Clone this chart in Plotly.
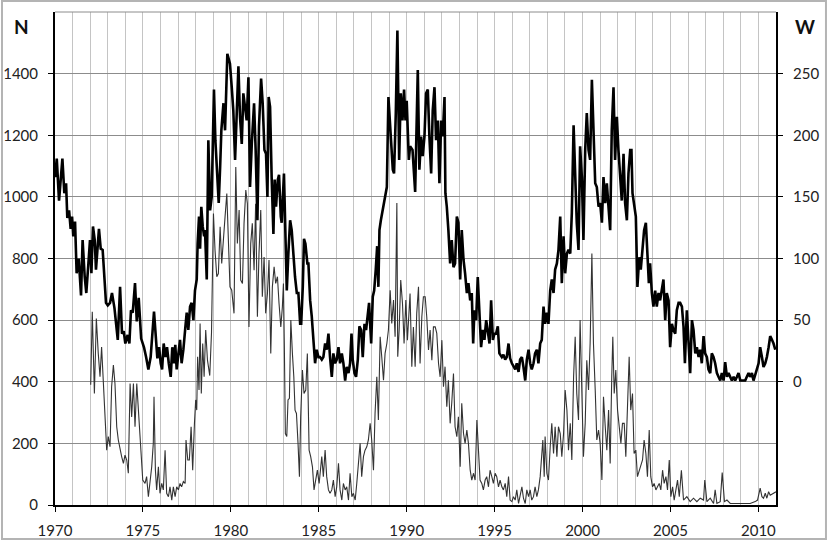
import plotly.graph_objects as go

# Thick line: W (right axis)
w_years = [1970.00,1970.10,1970.23,1970.42,1970.53,1970.63,1970.70,1970.80,1970.89,1970.97,
1971.04,1971.14,1971.23,1971.35,1971.48,1971.57,1971.69,1971.78,1971.90,1971.99,
1972.07,1972.16,1972.26,1972.33,1972.50,1972.60,1972.71,1972.81,1972.90,1973.00,
1973.13,1973.24,1973.38,1973.57,1973.70,1973.81,1973.91,1974.00,1974.13,1974.23,
1974.32,1974.42,1974.55,1974.65,1974.76,1974.90,1975.06,1975.18,1975.31,1975.44,
1975.56,1975.63,1975.73,1975.82,1975.92,1976.01,1976.09,1976.18,1976.28,1976.37,
1976.47,1976.58,1976.67,1976.77,1976.84,1976.92,1977.02,1977.11,1977.20,1977.30,
1977.40,1977.49,1977.58,1977.68,1977.77,1977.87,1977.96,1978.06,1978.11,1978.19,
1978.25,1978.32,1978.40,1978.48,1978.53,1978.63,1978.72,1978.82,1978.91,1978.97,
1979.04,1979.12,1979.20,1979.31,1979.39,1979.46,1979.58,1979.67,1979.80,1979.86,
1979.95,1980.05,1980.14,1980.24,1980.33,1980.43,1980.52,1980.62,1980.71,1980.81,
1980.90,1981.00,1981.09,1981.19,1981.32,1981.41,1981.51,1981.60,1981.72,1981.81,
1981.91,1982.00,1982.08,1982.15,1982.23,1982.32,1982.42,1982.49,1982.57,1982.67,
1982.74,1982.84,1982.89,1983.02,1983.08,1983.18,1983.27,1983.37,1983.46,1983.56,
1983.65,1983.75,1983.84,1983.94,1984.00,1984.09,1984.16,1984.24,1984.35,1984.41,
1984.51,1984.60,1984.69,1984.79,1984.88,1984.98,1985.07,1985.17,1985.26,1985.36,
1985.45,1985.55,1985.64,1985.74,1985.83,1985.93,1986.02,1986.12,1986.21,1986.31,
1986.40,1986.50,1986.59,1986.69,1986.78,1986.86,1986.93,1987.03,1987.12,1987.22,
1987.31,1987.41,1987.50,1987.60,1987.69,1987.79,1987.86,1987.92,1987.98,1988.07,
1988.15,1988.24,1988.32,1988.39,1988.45,1988.53,1988.62,1988.71,1988.81,1988.87,
1988.96,1989.04,1989.11,1989.21,1989.28,1989.38,1989.47,1989.57,1989.66,1989.76,
1989.85,1989.93,1990.00,1990.06,1990.12,1990.19,1990.33,1990.48,1990.63,1990.72,
1990.82,1990.91,1991.01,1991.10,1991.20,1991.29,1991.39,1991.48,1991.58,1991.67,
1991.77,1991.86,1991.96,1992.05,1992.15,1992.20,1992.28,1992.37,1992.47,1992.56,
1992.66,1992.75,1992.85,1992.94,1993.04,1993.13,1993.23,1993.32,1993.42,1993.51,
1993.61,1993.70,1993.78,1993.85,1993.95,1994.04,1994.14,1994.23,1994.33,1994.42,
1994.52,1994.61,1994.71,1994.80,1994.90,1994.99,1995.08,1995.18,1995.27,1995.41,
1995.50,1995.60,1995.69,1995.79,1995.88,1995.98,1996.07,1996.17,1996.26,1996.36,
1996.45,1996.55,1996.64,1996.74,1996.83,1996.93,1997.02,1997.11,1997.21,1997.30,
1997.40,1997.49,1997.59,1997.68,1997.78,1997.87,1997.97,1998.06,1998.16,1998.25,
1998.35,1998.44,1998.54,1998.63,1998.73,1998.82,1998.92,1999.01,1999.11,1999.20,
1999.30,1999.39,1999.49,1999.58,1999.67,1999.77,1999.86,1999.96,2000.05,2000.15,
2000.24,2000.34,2000.43,2000.53,2000.62,2000.72,2000.81,2000.91,2001.00,2001.10,
2001.19,2001.29,2001.38,2001.48,2001.57,2001.66,2001.76,2001.85,2001.95,2002.04,
2002.14,2002.23,2002.33,2002.42,2002.52,2002.61,2002.71,2002.78,2002.84,2002.93,
2003.03,2003.12,2003.22,2003.31,2003.41,2003.50,2003.60,2003.69,2003.77,2003.84,
2003.94,2004.03,2004.13,2004.22,2004.32,2004.41,2004.51,2004.60,2004.70,2004.79,
2004.89,2004.98,2005.08,2005.17,2005.27,2005.36,2005.46,2005.55,2005.65,2005.74,
2005.82,2005.93,2006.03,2006.12,2006.22,2006.31,2006.41,2006.50,2006.60,2006.69,
2006.78,2006.88,2006.97,2007.07,2007.16,2007.26,2007.35,2007.45,2007.54,2007.64,
2007.73,2007.83,2007.92,2008.02,2008.11,2008.21,2008.30,2008.40,2008.49,2008.59,
2008.68,2008.78,2008.87,2008.97,2009.06,2009.16,2009.25,2009.34,2009.44,2009.53,
2009.63,2009.72,2009.82,2009.91,2010.01,2010.10,2010.20,2010.29,2010.39,2010.48,
2010.58,2010.67,2010.77,2010.86,2010.96]
w_values = [166,181,147,181,153,161,133,139,124,134,
118,130,88,100,70,115,85,72,96,115,
88,126,115,91,124,108,107,88,64,62,
64,72,60,34,77,39,41,31,38,31,
58,56,80,49,68,35,28,20,10,20,
45,57,37,19,28,15,10,31,20,28,
15,4,28,15,30,10,23,34,15,26,
42,56,42,61,64,50,74,83,112,134,
108,142,126,118,123,83,196,139,150,188,
237,196,174,145,174,204,226,204,266,262,
258,239,220,180,218,256,215,193,234,223,
212,247,158,193,226,188,131,207,246,226,
188,185,150,231,223,166,120,164,142,164,
168,134,129,169,126,74,104,131,123,101,
85,72,72,47,47,77,116,112,96,96,
66,53,34,15,26,20,20,18,20,31,
26,39,20,4,23,15,18,28,15,23,
15,1,12,7,15,39,18,7,4,18,
45,42,20,47,42,53,64,47,31,69,
74,91,110,77,123,131,139,145,156,158,
231,210,201,172,169,218,285,180,234,212,
237,212,228,207,180,191,188,154,253,172,
199,183,199,234,237,199,169,220,239,196,
212,161,212,199,231,153,142,123,96,115,
93,96,134,129,83,123,99,88,72,80,
66,72,31,58,50,85,58,28,42,34,
50,39,31,66,34,39,39,45,23,20,
22,18,20,31,19,15,12,10,15,8,
18,20,12,1,18,26,15,10,15,23,
26,15,31,34,61,47,56,47,74,83,
72,91,96,107,134,80,118,88,104,107,
104,137,208,166,129,107,191,166,115,188,
218,188,180,245,199,161,158,142,145,129,
166,145,161,142,123,204,239,180,215,188,
166,147,185,145,131,169,188,188,153,145,
134,77,101,91,107,123,129,104,80,96,
72,61,74,61,72,66,74,83,50,72,
66,28,47,42,39,58,64,64,61,45,
15,58,31,7,50,42,23,28,20,26,
15,37,23,20,10,7,23,20,15,7,
4,1,7,1,16,4,7,4,1,4,
1,4,7,1,1,1,1,4,7,4,
7,1,7,10,15,28,20,12,15,20,
28,37,34,31,26]

# Thin line: N (left axis)
n_years = [1972.03,1972.12,1972.24,1972.35,1972.46,1972.56,1972.65,1972.75,1972.84,1972.94,
1973.03,1973.13,1973.22,1973.32,1973.41,1973.51,1973.60,1973.70,1973.79,1973.89,
1973.98,1974.08,1974.17,1974.27,1974.36,1974.46,1974.55,1974.65,1974.74,1974.84,
1974.99,1975.12,1975.21,1975.31,1975.40,1975.50,1975.59,1975.63,1975.71,1975.78,
1975.88,1975.97,1976.07,1976.16,1976.26,1976.35,1976.45,1976.54,1976.64,1976.73,
1976.83,1976.92,1977.02,1977.11,1977.20,1977.30,1977.40,1977.45,1977.55,1977.64,
1977.74,1977.83,1977.93,1978.00,1978.06,1978.11,1978.19,1978.25,1978.32,1978.40,
1978.48,1978.57,1978.67,1978.80,1978.90,1979.01,1979.10,1979.20,1979.29,1979.39,
1979.48,1979.58,1979.67,1979.77,1979.86,1979.95,1980.05,1980.18,1980.28,1980.37,
1980.47,1980.56,1980.66,1980.75,1980.85,1980.94,1981.03,1981.13,1981.22,1981.32,
1981.41,1981.51,1981.60,1981.70,1981.79,1981.89,1981.98,1982.08,1982.17,1982.27,
1982.36,1982.46,1982.55,1982.65,1982.74,1982.84,1982.93,1982.99,1983.04,1983.10,
1983.18,1983.25,1983.33,1983.41,1983.50,1983.58,1983.65,1983.73,1983.82,1983.90,
1983.97,1984.07,1984.16,1984.26,1984.35,1984.45,1984.54,1984.64,1984.73,1984.83,
1984.92,1985.02,1985.17,1985.26,1985.36,1985.45,1985.55,1985.64,1985.74,1985.83,
1985.93,1986.02,1986.12,1986.21,1986.31,1986.40,1986.50,1986.59,1986.69,1986.78,
1986.88,1986.97,1987.07,1987.16,1987.26,1987.35,1987.44,1987.54,1987.63,1987.73,
1987.82,1987.92,1988.01,1988.11,1988.20,1988.30,1988.39,1988.49,1988.58,1988.68,
1988.77,1988.87,1988.96,1989.06,1989.15,1989.25,1989.34,1989.44,1989.49,1989.57,
1989.66,1989.76,1989.85,1989.95,1990.04,1990.14,1990.19,1990.29,1990.38,1990.48,
1990.57,1990.67,1990.76,1990.86,1990.95,1991.05,1991.14,1991.24,1991.33,1991.43,
1991.52,1991.62,1991.71,1991.81,1991.90,1992.00,1992.09,1992.18,1992.28,1992.37,
1992.47,1992.56,1992.66,1992.75,1992.85,1992.94,1993.04,1993.13,1993.23,1993.32,
1993.42,1993.51,1993.61,1993.70,1993.80,1993.89,1993.99,1994.08,1994.17,1994.27,
1994.36,1994.46,1994.55,1994.65,1994.74,1994.84,1994.93,1995.03,1995.12,1995.22,
1995.31,1995.41,1995.50,1995.60,1995.69,1995.79,1995.88,1995.98,1996.07,1996.17,
1996.26,1996.36,1996.45,1996.55,1996.64,1996.74,1996.83,1996.93,1997.02,1997.11,
1997.21,1997.30,1997.40,1997.49,1997.59,1997.68,1997.74,1997.82,1997.87,1997.97,
1998.06,1998.16,1998.25,1998.35,1998.44,1998.54,1998.63,1998.73,1998.82,1998.92,
1999.01,1999.11,1999.20,1999.30,1999.39,1999.49,1999.58,1999.67,1999.77,1999.86,
1999.96,2000.05,2000.15,2000.24,2000.34,2000.43,2000.53,2000.62,2000.72,2000.81,
2000.91,2001.00,2001.10,2001.19,2001.29,2001.38,2001.48,2001.57,2001.66,2001.72,
2001.80,2001.89,2001.99,2002.08,2002.18,2002.27,2002.37,2002.46,2002.56,2002.65,
2002.74,2002.84,2002.93,2003.03,2003.12,2003.22,2003.31,2003.41,2003.50,2003.60,
2003.69,2003.79,2003.88,2003.98,2004.07,2004.17,2004.26,2004.36,2004.45,2004.55,
2004.64,2004.74,2004.83,2004.93,2005.02,2005.12,2005.21,2005.31,2005.40,2005.50,
2005.62,2005.74,2005.93,2006.12,2006.31,2006.50,2006.69,2006.88,2006.95,2007.07,
2007.26,2007.45,2007.54,2007.64,2007.83,2007.94,2008.07,2008.21,2008.40,2008.78,
2009.16,2009.53,2009.82,2009.95,2010.10,2010.20,2010.29,2010.39,2010.48,2010.58,
2010.67,2010.86,2011.00]
n_values = [390,627,362,605,492,416,513,405,276,178,
222,189,384,454,394,254,211,178,157,135,
162,146,103,394,286,394,254,394,308,250,
81,70,92,27,70,124,200,351,113,49,
124,38,70,49,178,38,27,59,16,59,
27,59,49,70,59,76,70,211,146,146,
254,113,265,341,308,481,373,589,362,524,
416,568,470,420,560,946,827,741,751,903,
784,849,935,1011,849,708,697,622,1097,849,
957,730,719,914,1022,978,578,849,914,762,
978,611,816,957,676,805,622,686,795,492,
708,773,719,741,654,578,643,719,524,232,
222,341,346,600,492,416,308,297,200,92,
286,438,362,373,492,178,157,124,49,92,
113,70,157,92,178,92,49,38,49,81,
27,59,135,49,16,70,49,59,16,103,
27,38,16,70,146,200,92,157,178,189,
211,265,211,113,297,416,276,546,481,405,
492,524,568,697,589,665,546,980,481,568,
730,654,524,665,535,654,686,449,578,449,
622,708,459,611,676,676,611,503,568,470,
578,578,557,459,416,535,384,449,319,405,
265,330,427,254,222,286,124,330,232,200,
243,200,113,81,103,81,276,178,81,70,
49,81,92,59,113,92,70,103,92,59,
81,59,49,70,27,92,16,11,27,16,
49,5,27,59,22,5,49,27,49,16,
27,59,27,49,92,178,211,92,222,103,
81,189,265,167,254,157,254,232,157,232,
373,308,178,265,146,416,546,362,276,600,
308,157,265,470,373,524,816,524,373,211,
243,200,81,351,254,178,308,135,416,546,
362,438,308,243,200,265,265,157,297,481,
308,362,167,178,92,113,124,146,211,167,
92,243,92,59,70,49,59,70,49,113,
70,92,49,146,27,59,16,49,81,27,
113,16,27,11,22,11,22,16,81,11,
22,5,49,5,11,105,11,16,5,5,
5,5,11,16,55,27,22,38,22,43,
32,38,43]

x_tickvals = [1970, 1975, 1980, 1985, 1990, 1995, 2000, 2005, 2010]
n_tickvals = [0, 200, 400, 600, 800, 1000, 1200, 1400]
w_tickvals = [0, 50, 100, 150, 200, 250]

FONT = "Lato, 'Open Sans', sans-serif"

fig = go.Figure()
fig.add_trace(go.Scatter(x=n_years, y=n_values, mode="lines", name="N",
                         line=dict(color="#333333", width=1.1), yaxis="y"))
fig.add_trace(go.Scatter(x=w_years, y=w_values, mode="lines", name="W",
                         line=dict(color="#000000", width=2.6), yaxis="y2"))

fig.update_layout(
    width=829, height=542,
    margin=dict(l=55, r=53, t=12, b=37, autoexpand=False),
    paper_bgcolor="white", plot_bgcolor="white",
    showlegend=False,
    font=dict(family=FONT, size=15, color="#222222"),
    xaxis=dict(range=[1970, 2011], tickvals=x_tickvals, ticks="outside", ticklen=5,
               tickcolor="black", showline=True, linecolor="black", linewidth=2,
               showgrid=False, zeroline=False, ticklabelstandoff=6, automargin=False,
               minor=dict(dtick=1, tick0=1970, showgrid=True, gridcolor="#c4c4c4",
                          gridwidth=1, ticks="")),
    yaxis=dict(range=[0, 1600], tickvals=n_tickvals, ticks="outside", ticklen=5,
               tickcolor="black", showline=True, linecolor="black", linewidth=2,
               showgrid=True, gridcolor="#8c8c8c", gridwidth=1, zeroline=False,
               ticklabelstandoff=7, automargin=False),
    yaxis2=dict(range=[-100, 300], tickvals=w_tickvals, ticks="outside", ticklen=5,
                tickcolor="black", overlaying="y", side="right", showline=True,
                linecolor="black", linewidth=2, showgrid=False, zeroline=False,
                ticklabelstandoff=7, automargin=False),
    shapes=[
        dict(type="line", xref="paper", yref="paper", x0=0, x1=1, y0=1, y1=1,
             line=dict(color="#8c8c8c", width=1)),
        dict(type="rect", xref="paper", yref="paper", x0=-0.0735, x1=1.0693,
             y0=-0.069, y1=1.0223, line=dict(color="#b4b4b4", width=2)),
    ],
    annotations=[
        dict(text="<b>N</b>", xref="paper", yref="paper", x=-0.046, y=0.97,
             xanchor="center", yanchor="middle",
             showarrow=False, font=dict(size=19, color="#111111", family=FONT)),
        dict(text="<b>W</b>", xref="paper", yref="paper", x=1.040, y=0.97,
             xanchor="center", yanchor="middle",
             showarrow=False, font=dict(size=19, color="#111111", family=FONT)),
    ],
)

fig.write_html("out.html", config={"displayModeBar": False},
               post_script="document.body.style.margin='0px';")
